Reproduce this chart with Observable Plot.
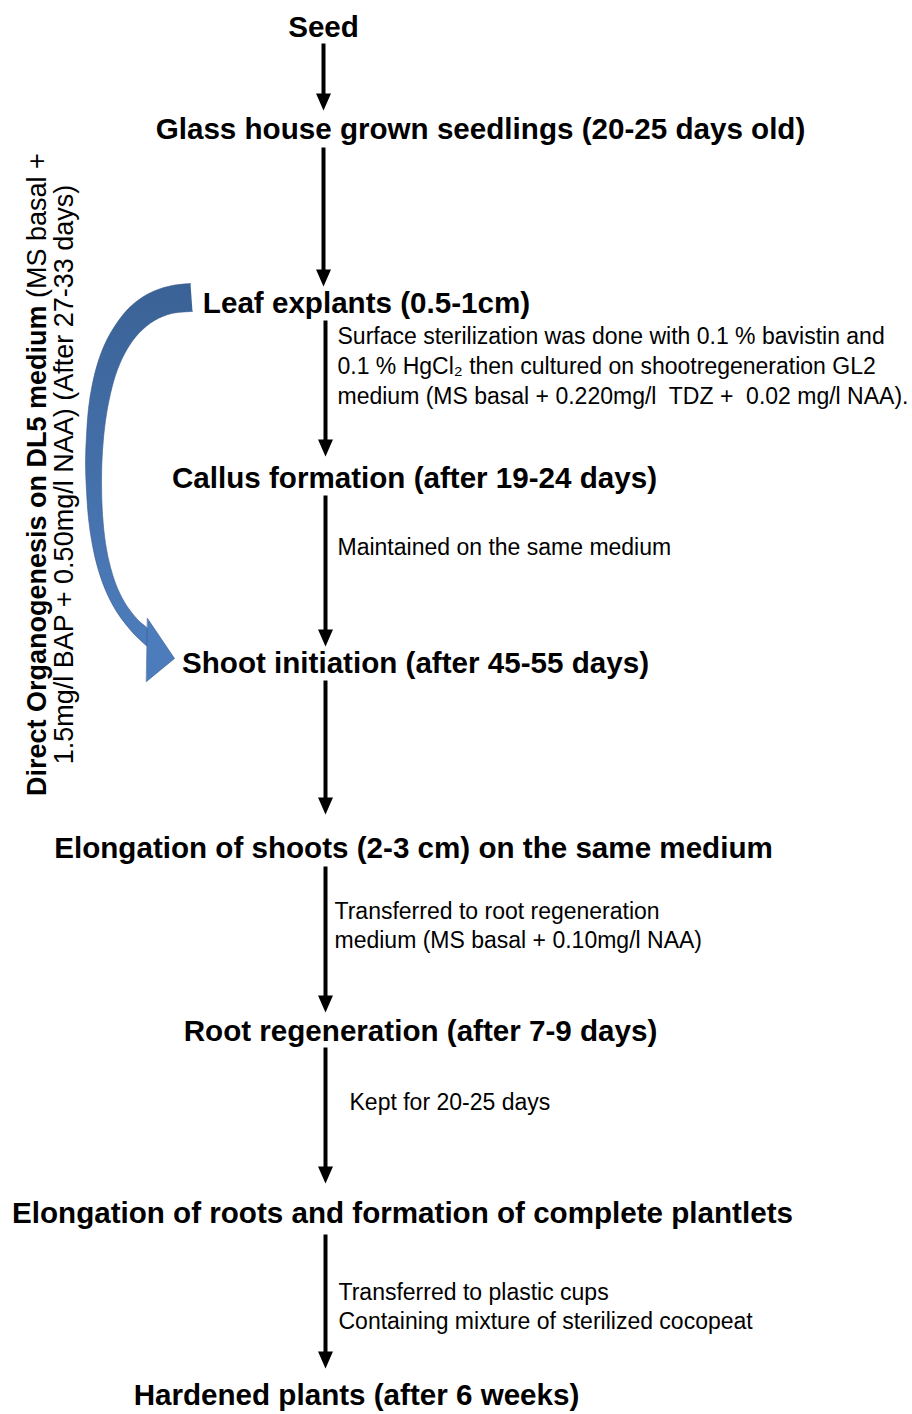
<!DOCTYPE html>
<html>
<head>
<meta charset="utf-8">
<script src="https://cdn.jsdelivr.net/npm/d3@7"></script>
<script src="https://cdn.jsdelivr.net/npm/@observablehq/plot@0.6"></script>
<style>
  html, body { margin: 0; padding: 0; background: #ffffff; }
  #chart svg { display: block; }
</style>
</head>
<body>
<div id="chart"></div>
<script>
// ---- Flow steps (bold headings) ----
const steps = [
  "Seed",
  "Glass house grown seedlings (20-25 days old)",
  "Leaf explants (0.5-1cm)",
  "Callus formation (after 19-24 days)",
  "Shoot initiation (after 45-55 days)",
  "Elongation of shoots (2-3 cm) on the same medium",
  "Root regeneration (after 7-9 days)",
  "Elongation of roots and formation of complete plantlets",
  "Hardened plants (after 6 weeks)"
];
const stepX = [323, 480, 366, 414, 415, 413, 420, 402, 356];
const stepY = [27, 129, 303, 478, 663, 848, 1031, 1213, 1395];

// ---- Connecting arrows ----
const arrowX     = [323, 323, 325, 325, 325, 325, 325, 325];
const arrowStart = [43, 147, 320, 495, 680, 866, 1047, 1234];
const arrowTip   = [110, 286, 456, 646, 814, 1012, 1183, 1368];

// ---- Side notes (regular text) ----
const notes = [
  "Surface sterilization was done with 0.1 % bavistin and",
  "0.1 % HgCl\u2082 then cultured on shootregeneration GL2",
  "medium (MS basal + 0.220mg/l  TDZ +  0.02 mg/l NAA).",
  "Maintained on the same medium",
  "Transferred to root regeneration",
  "medium (MS basal + 0.10mg/l NAA)",
  "Kept for 20-25 days",
  "Transferred to plastic cups",
  "Containing mixture of sterilized cocopeat"
];
const noteX = [337, 337, 337, 337, 334, 334, 349, 338, 338];
const noteY = [336, 366, 396, 547, 911, 940, 1102, 1292, 1321];

// ---- Rotated side label (direct organogenesis route) ----
const sideBold = "Direct Organogenesis on DL5 medium";
const sideRegular1 = " (MS basal +";
const sideRegular2 = "1.5mg/l BAP + 0.50mg/l NAA) (After 27-33 days)";

// ---- Blue curved arrow (Leaf explants -> Shoot initiation) ----
// band outline: outer edge (top cut -> head), then inner edge (head -> top cut)
const bandX = [190, 172, 155, 140, 127, 116, 106, 98, 92, 88, 86, 85, 86, 88, 92, 98, 106, 116, 127, 138, 150,
               150, 137, 126, 117, 110, 105, 102, 101, 102, 105, 110, 117, 127, 139, 154, 171, 192];
const bandY = [283, 285, 290, 298, 309, 323, 340, 360, 383, 408, 435, 462, 490, 518, 545, 570, 592, 611, 626, 638, 647,
               632, 619, 605, 588, 567, 543, 514, 480, 450, 420, 393, 369, 348, 332, 320, 313, 311];
// arrowhead outline
const headX = [147, 174, 146];
const headY = [618, 658, 681];

// ---- Build tables ----
const stepRows = steps.map((label, i) => ({label, x: stepX[i], y: stepY[i]}));
const noteRows = notes.map((label, i) => ({label, x: noteX[i], y: noteY[i]}));
const arrowRows = arrowX.map((x, i) => ({x, y1: arrowStart[i], y2: arrowTip[i]}));
const bandRows = bandX.map((x, i) => ({x, y: bandY[i]}));
const headRows = headX.map((x, i) => ({x, y: headY[i]}));

const headSymbol = {
  draw(context) {
    context.moveTo(0, 0);
    context.lineTo(-7.5, -17);
    context.lineTo(7.5, -17);
    context.closePath();
  }
};

const gradientDefs = () => {
  const defs = d3.create("svg:defs");
  const g = defs.append("linearGradient")
    .attr("id", "blueGrad")
    .attr("gradientUnits", "userSpaceOnUse")
    .attr("x1", 0).attr("y1", 283).attr("x2", 0).attr("y2", 680);
  g.append("stop").attr("offset", "0%").attr("stop-color", "#3a6296");
  g.append("stop").attr("offset", "100%").attr("stop-color", "#4f7fc0");
  return defs.node();
};

const font = "'Liberation Sans', Arial, Helvetica, sans-serif";

const chart = Plot.plot({
  width: 912,
  height: 1414,
  margin: 0,
  style: {background: "#ffffff", fontFamily: font},
  x: {domain: [0, 912], range: [0, 912], axis: null},
  y: {domain: [0, 1414], range: [0, 1414], axis: null},
  marks: [
    gradientDefs,
    // blue curved arrow: band + head
    Plot.line(bandRows, {
      x: "x", y: "y", curve: "catmull-rom",
      fill: "url(#blueGrad)", stroke: "#35598a", strokeWidth: 1, strokeOpacity: 0.6
    }),
    Plot.line(headRows, {
      x: "x", y: "y", curve: "linear-closed",
      fill: "#4d7cbc", stroke: "#35598a", strokeWidth: 1, strokeOpacity: 0.6, strokeLinejoin: "round"
    }),
    // black arrow shafts
    Plot.link(arrowRows, {
      x1: "x", x2: "x", y1: "y1", y2: d => d.y2 - 12,
      stroke: "#000000", strokeWidth: 4, strokeLinecap: "butt"
    }),
    // arrow heads
    Plot.dot(arrowRows, {
      x: "x", y: "y2", symbol: headSymbol, r: 5, fill: "#000000", stroke: "none"
    }),
    // step headings
    Plot.text(stepRows, {
      x: "x", y: "y", text: "label",
      fontSize: 29.6, fontWeight: "bold", fill: "#000000", fontFamily: font, textAnchor: "middle"
    }),
    // side notes
    Plot.text(noteRows, {
      x: "x", y: "y", text: "label",
      fontSize: 23, fill: "#000000", fontFamily: font, textAnchor: "start"
    }),
    // rotated side label, line 1 (bold part + regular part)
    Plot.text([sideBold], {
      x: () => 37, y: () => 305, text: d => d, rotate: -90,
      textAnchor: "end", fontSize: 27, fontWeight: "bold", fill: "#000000", fontFamily: font
    }),
    Plot.text([sideRegular1], {
      x: () => 37, y: () => 305, text: d => d, rotate: -90,
      textAnchor: "start", fontSize: 27, fill: "#000000", fontFamily: font
    }),
    // rotated side label, line 2
    Plot.text([sideRegular2], {
      x: () => 64, y: () => 474, text: d => d, rotate: -90,
      textAnchor: "middle", fontSize: 27, fill: "#000000", fontFamily: font
    })
  ]
});

document.getElementById("chart").appendChild(chart);
</script>
</body>
</html>
